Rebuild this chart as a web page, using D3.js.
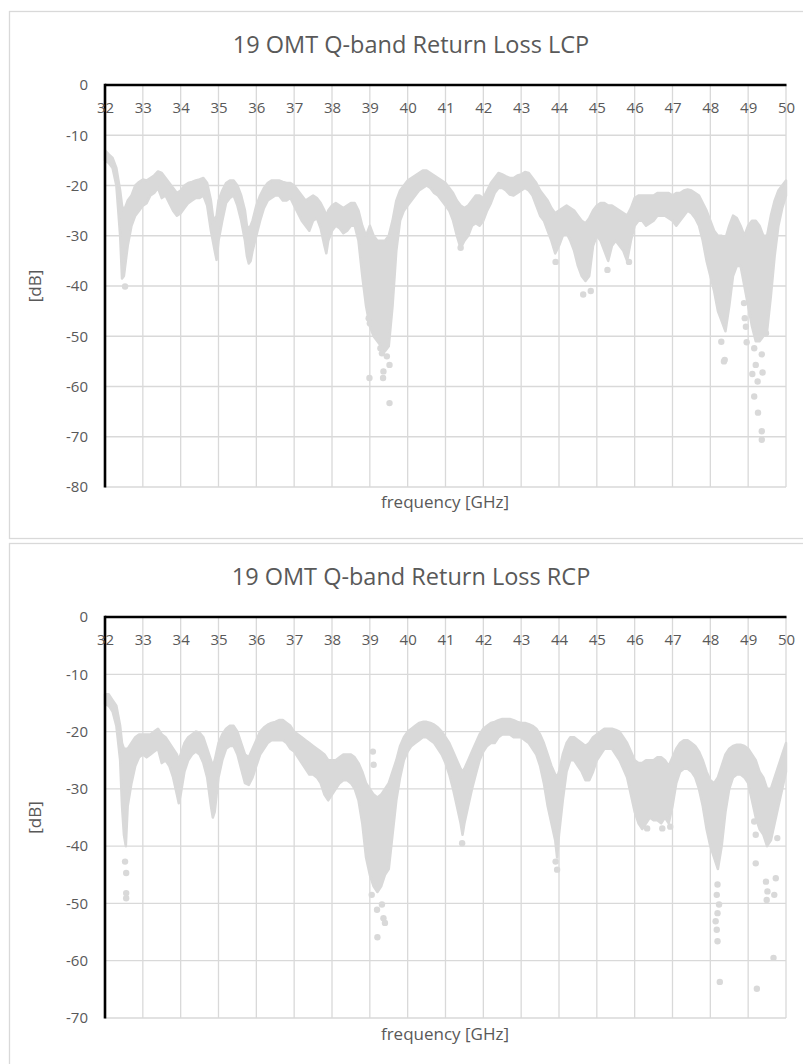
<!DOCTYPE html>
<html lang="en">
<head>
<meta charset="utf-8">
<title>19 OMT Q-band Return Loss</title>
<script src="https://cdn.jsdelivr.net/npm/d3@7/dist/d3.min.js"></script>
<style>
  body { margin: 0; background: #fff; }
  text { font-family: "Open Sans", "Noto Sans", sans-serif; fill: #595959; }
</style>
</head>
<body>
<script>
// ---- data ----
const xTicks = [32,33,34,35,36,37,38,39,40,41,42,43,44,45,46,47,48,49,50];
const yTicksLcp = [0,-10,-20,-30,-40,-50,-60,-70,-80];
const yTicksRcp = [0,-10,-20,-30,-40,-50,-60,-70];

// LCP band: frequency [GHz], upper and lower edge of the point cloud [dB]
const lcpFreq = [32.0,32.1,32.2,32.3,32.4,32.45,32.5,32.55,32.6,32.7,32.8,32.9,33.0,33.1,33.2,33.3,33.4,33.5,33.6,33.7,33.8,33.9,
  34.0,34.1,34.2,34.3,34.4,34.5,34.6,34.7,34.8,34.85,34.9,34.95,35.0,35.1,35.2,35.3,35.4,35.5,35.6,35.7,35.75,35.8,35.85,35.9,
  36.0,36.1,36.2,36.3,36.4,36.5,36.6,36.7,36.8,36.9,37.0,37.1,37.2,37.3,37.4,37.5,37.6,37.7,37.8,37.85,37.9,
  38.0,38.1,38.2,38.3,38.4,38.5,38.6,38.7,38.8,38.9,39.0,39.1,39.2,39.3,39.4,39.5,39.6,39.7,39.8,39.9,
  40.0,40.1,40.2,40.3,40.4,40.5,40.6,40.7,40.8,40.9,41.0,41.1,41.2,41.3,41.4,41.5,41.6,41.7,41.8,41.9,
  42.0,42.1,42.2,42.3,42.4,42.5,42.6,42.7,42.8,42.9,43.0,43.1,43.2,43.3,43.4,43.5,43.6,43.7,43.8,43.9,
  44.0,44.1,44.2,44.3,44.4,44.5,44.6,44.7,44.8,44.9,45.0,45.1,45.2,45.3,45.4,45.5,45.6,45.7,45.8,45.9,
  46.0,46.1,46.2,46.3,46.4,46.5,46.6,46.7,46.8,46.9,47.0,47.1,47.2,47.3,47.4,47.5,47.6,47.7,47.8,47.9,
  48.0,48.1,48.2,48.3,48.4,48.5,48.6,48.7,48.8,48.9,49.0,49.1,49.2,49.3,49.4,49.5,49.6,49.7,49.8,49.9,50.0];
const lcpHi = [-13.0,-13.8,-14.5,-16.5,-21,-24,-25,-24,-23,-22,-20,-19.3,-18.8,-19,-18.5,-18,-17.2,-17.5,-18.5,-19.5,-20.5,-21.5,
  -21,-20,-19.5,-19.3,-19,-18.8,-18.5,-19.5,-23,-26,-27,-26,-23,-21,-19.5,-19,-19,-20,-22,-25,-28,-28.5,-28,-27,
  -24,-22,-20.5,-19.5,-19,-19,-19,-19.3,-19.5,-19.5,-20,-21,-22,-23,-22.5,-22,-22.5,-23.5,-25,-26,-25,
  -24,-23.5,-24,-24.5,-24,-23.5,-23.5,-25,-28,-30,-28,-30,-31,-31,-31,-30,-27,-23,-21,-20,
  -19,-18.5,-18,-17.5,-17,-17,-17.5,-18,-18.5,-19,-19.5,-20.5,-21.5,-23,-24,-24.5,-24,-23,-22,-22,
  -22.5,-21,-19.5,-18.5,-17.5,-17.8,-18.2,-18.5,-18.5,-18,-17.8,-17.3,-17.5,-18.5,-19.5,-21,-22,-23,-24.5,-25.5,
  -25,-24.5,-24,-24.5,-25,-26,-27,-27.5,-26.5,-25,-24,-23.5,-23.5,-24,-24,-24.5,-25,-25.5,-26,-24.5,
  -22.5,-22,-22,-22,-22,-22,-21.5,-21.5,-21.5,-21.5,-22,-21.5,-21.5,-21,-20.8,-21,-21.5,-22,-23.5,-25,
  -27,-29,-30,-30,-30.5,-28,-26,-26.5,-28,-30,-28,-27,-27,-28,-30,-30,-26,-23,-21,-20,-19];
const lcpLo = [-15.0,-15.5,-16.5,-20,-30,-38.5,-38,-35,-32,-28,-26,-25,-24,-23.5,-22,-21.5,-20.5,-22.5,-22,-23.5,-25,-26,
  -25.5,-24.5,-23.5,-23,-22.5,-22.5,-22,-24,-29,-31,-33,-34.8,-31,-27,-23.5,-22.5,-22,-24,-27,-31,-34,-35.5,-35,-33,
  -30,-27,-24.5,-23,-22.5,-22,-22,-23,-23,-22.5,-24,-25.5,-27,-28,-29,-27,-26.5,-28.5,-32,-33.5,-31,
  -29,-28,-28.5,-29.5,-29,-28,-28,-31,-38,-44,-48,-50,-51,-52,-53,-52,-44,-33,-27,-25,
  -24,-23,-22,-21,-20.5,-20,-20.5,-21.5,-22,-23,-24,-25,-27,-30,-32.5,-31,-30,-28,-27.5,-28,
  -27,-25,-23.5,-21.5,-20.5,-20.5,-21,-21.8,-22,-21.5,-21,-20.5,-21,-22,-24,-26,-27,-29,-31,-33.5,
  -32,-30,-29.5,-31,-33,-36,-38,-39,-38,-32,-30,-31,-33,-35,-32,-31,-32,-33,-35,-31,
  -28,-27,-27,-28,-27.5,-27,-26,-26,-26,-26.5,-27,-28,-27,-26,-25,-25.5,-26.5,-28,-31,-35,
  -38,-41,-45,-47,-49,-44,-38,-36,-36,-40,-44,-48,-51,-51,-50,-49,-42,-34,-28,-24.5,-22];
// LCP isolated points below the cloud
const lcpOutFreq = [32.53,38.97,39.0,38.99,39.28,39.32,39.35,39.36,39.45,39.52,39.52,41.4,43.91,44.64,44.84,45.28,45.85,
  48.29,48.36,48.38,48.89,48.91,48.94,48.96,49.11,49.16,49.16,49.2,49.25,49.26,49.36,49.36,49.36,49.38,49.47];
const lcpOutDb = [-40.1,-46.4,-47.4,-58.3,-52.4,-53.4,-58.3,-57,-54,-55.7,-63.3,-32.4,-35.2,-41.7,-41,-36.8,-35.2,
  -51.1,-55,-54.7,-43.4,-46.4,-48.1,-51.2,-57.5,-52.4,-62,-55.7,-59,-65.2,-53.6,-68.9,-70.6,-57.2,-49.4];

// RCP band
const rcpFreq = [32.0,32.1,32.2,32.3,32.4,32.45,32.5,32.55,32.6,32.7,32.8,32.9,33.0,33.1,33.2,33.3,33.4,33.5,33.6,33.7,33.8,33.9,33.95,
  34.0,34.1,34.2,34.3,34.4,34.5,34.6,34.7,34.8,34.85,34.9,35.0,35.1,35.2,35.3,35.4,35.5,35.6,35.7,35.8,35.9,
  36.0,36.1,36.2,36.3,36.4,36.5,36.6,36.7,36.8,36.9,37.0,37.1,37.2,37.3,37.4,37.5,37.6,37.7,37.8,37.9,
  38.0,38.1,38.2,38.3,38.4,38.5,38.6,38.7,38.8,38.9,39.0,39.1,39.2,39.3,39.4,39.5,39.6,39.7,39.8,39.9,
  40.0,40.1,40.2,40.3,40.4,40.5,40.6,40.7,40.8,40.9,41.0,41.1,41.2,41.3,41.4,41.45,41.5,41.6,41.7,41.8,41.9,
  42.0,42.1,42.2,42.3,42.4,42.5,42.6,42.7,42.8,42.9,43.0,43.1,43.2,43.3,43.4,43.5,43.6,43.7,43.8,43.9,43.95,
  44.0,44.1,44.2,44.3,44.4,44.5,44.6,44.7,44.8,44.9,45.0,45.1,45.2,45.3,45.4,45.5,45.6,45.7,45.8,45.9,
  46.0,46.1,46.2,46.3,46.4,46.5,46.6,46.7,46.8,46.9,47.0,47.1,47.2,47.3,47.4,47.5,47.6,47.7,47.8,47.9,
  48.0,48.1,48.2,48.3,48.4,48.5,48.6,48.7,48.8,48.9,49.0,49.1,49.2,49.3,49.4,49.5,49.6,49.7,49.8,49.9,50.0];
const rcpHi = [-13.5,-13.5,-14.5,-15.5,-19,-22,-23,-23,-23,-22,-21,-20.5,-20.5,-20.5,-20.5,-20,-19.5,-20.5,-21,-22,-23,-24,-25,
  -24,-22,-21,-20.5,-20,-20.2,-21,-23,-25,-26,-25,-22,-20.5,-19.5,-19,-19,-20,-22,-24,-24.5,-23,
  -21.5,-20,-19.3,-18.8,-18.5,-18.3,-18,-18,-18.5,-19,-20,-20.5,-21,-21.5,-22,-22.5,-23,-23.5,-24,-25,
  -25,-25,-24.5,-24,-24,-24,-24.5,-25.5,-27,-29,-30,-31,-31.5,-31,-30,-29,-27,-25,-22.5,-21,
  -20,-19.5,-19,-18.5,-18.3,-18.3,-18.5,-18.8,-19.3,-20,-21,-22,-23.5,-25,-26.5,-27,-26.5,-25,-23.5,-22,-20.5,
  -19.5,-19,-18.5,-18.3,-18,-17.8,-17.8,-17.8,-18,-18.3,-18.5,-18.5,-18.7,-19,-19.5,-20.5,-22,-24,-26,-27.5,-28,
  -27,-24,-22,-21,-21,-21.5,-22,-22.5,-22,-21,-20.5,-20,-19.5,-19.5,-19.5,-19.7,-20,-21,-22,-23.5,
  -25,-25.5,-25.5,-25,-25,-25,-24.5,-24.5,-25,-26,-24.5,-23,-22,-21.5,-21.5,-22,-22.5,-23.5,-25,-27,
  -28.5,-29,-28,-26,-24,-23,-22.5,-22.3,-22.3,-22.5,-23,-24,-25,-27,-28,-30,-30,-28,-26,-24,-22];
const rcpLo = [-15.2,-15.5,-16.5,-19,-25,-33,-38,-40,-33,-29,-26,-24.5,-24,-24.5,-24,-23.5,-23,-25.5,-25,-26,-28,-31,-32.5,
  -31,-27,-25,-24,-23.5,-24,-25.5,-28,-33,-35,-34,-28,-25,-23,-22.5,-22.5,-24,-26.5,-29,-29.3,-28,
  -26,-24,-23,-22,-21.5,-21.5,-21.5,-21.5,-22,-23,-23.5,-24.5,-25.5,-26.5,-27.5,-27.5,-28,-29,-31,-32,
  -31,-30,-29,-28.5,-28.5,-29,-30,-32,-36,-42,-45,-47,-48,-47,-45,-44,-38,-32,-28,-25,
  -23.5,-22.5,-22,-21.5,-21,-21,-21.5,-22,-23,-24,-25.5,-27.5,-30,-33,-36,-38,-36,-33,-30,-27.5,-25,
  -23.5,-22.5,-22,-22,-21,-20.5,-20.5,-20.5,-21,-21,-21,-21.5,-22,-23,-24,-26,-29,-33,-36,-39,-42,
  -38,-32,-27,-25,-25,-26,-27,-28.5,-28.5,-27,-25,-24,-23,-23,-23,-24,-25,-26.5,-28,-31,
  -34,-36,-37,-36,-35,-35.5,-35.5,-36,-35,-36,-33,-29,-27,-26.5,-26.5,-27,-28,-30,-33,-37,
  -40,-42,-44,-40,-34,-30,-28,-27.5,-27.5,-28,-29,-32,-35,-37,-38,-40,-39,-36,-33,-30,-27];
// RCP isolated points
const rcpOutFreq = [32.53,32.56,32.56,32.56,39.08,39.1,39.05,39.19,39.32,39.36,39.4,39.2,41.44,43.91,43.95,46.33,46.73,46.94,
  48.19,48.17,48.23,48.19,48.14,48.17,48.19,48.25,49.16,49.2,49.2,49.23,49.47,49.51,49.49,49.67,49.69,49.73,49.77];
const rcpOutDb = [-42.7,-44.7,-48.2,-49.1,-23.5,-25.8,-48.5,-51.1,-50.2,-52.6,-53.4,-55.9,-39.5,-42.7,-44.1,-36.9,-36.9,-36.6,
  -46.7,-48.5,-50.2,-51.7,-53.1,-54.6,-56.6,-63.7,-35.7,-38,-43,-64.9,-46.2,-47.9,-49.4,-59.5,-48.5,-45.6,-38.6];

const W = 803, H = 1064;
const dotColor = "#d9d9d9";
const gridColor = "#d9d9d9";

const svg = d3.select("body").append("svg")
  .attr("width", W)
  .attr("height", H);

function drawChart(cfg) {
  const g = svg.append("g");

  // chart frame
  g.append("rect")
    .attr("x", 9.5).attr("y", cfg.frameTop + 0.5)
    .attr("width", 800).attr("height", cfg.frameH)
    .attr("fill", "#fff").attr("stroke", gridColor).attr("stroke-width", 1.3);

  const x = d3.scaleLinear().domain([32, 50]).range([105, 786]);
  const y = d3.scaleLinear().domain([cfg.yMin, 0]).range([cfg.bottom, cfg.top]);

  // grid
  g.append("g").selectAll("line")
    .data(xTicks.slice(1))
    .join("line")
    .attr("x1", d => x(d)).attr("x2", d => x(d))
    .attr("y1", cfg.top).attr("y2", cfg.bottom)
    .attr("stroke", gridColor).attr("stroke-width", 1.3);
  g.append("g").selectAll("line")
    .data(cfg.yTicks.slice(1))
    .join("line")
    .attr("x1", 105).attr("x2", 786)
    .attr("y1", d => y(d)).attr("y2", d => y(d))
    .attr("stroke", gridColor).attr("stroke-width", 1.3);

  // measured point cloud
  const band = cfg.freq.map((f, i) => ({f: f, hi: cfg.hi[i], lo: cfg.lo[i]}));
  const area = d3.area()
    .x(d => x(d.f))
    .y0(d => y(d.lo))
    .y1(d => y(d.hi));
  g.append("path")
    .datum(band)
    .attr("d", area)
    .attr("fill", dotColor)
    .attr("stroke", dotColor)
    .attr("stroke-width", 2.5)
    .attr("stroke-linejoin", "round");

  g.append("g").selectAll("circle")
    .data(cfg.outF.map((f, i) => ({f: f, v: cfg.outDb[i]})))
    .join("circle")
    .attr("cx", d => x(d.f))
    .attr("cy", d => y(d.v))
    .attr("r", 3.2)
    .attr("fill", dotColor);

  // axes: black lines at 0 dB and 32 GHz
  g.append("line")
    .attr("x1", 105).attr("x2", 786.5)
    .attr("y1", cfg.top).attr("y2", cfg.top)
    .attr("stroke", "#000").attr("stroke-width", 2.6);
  g.append("line")
    .attr("x1", 105).attr("x2", 105)
    .attr("y1", cfg.top - 1.3).attr("y2", cfg.bottom + 0.5)
    .attr("stroke", "#000").attr("stroke-width", 2.6);

  const xAxis = d3.axisBottom(x).tickValues(xTicks).tickSize(0).tickPadding(17)
    .tickFormat(d => String(d));
  const gx = g.append("g").attr("transform", `translate(0,${cfg.top})`).call(xAxis);
  gx.select(".domain").remove();
  gx.selectAll("text").attr("font-size", 15).attr("fill", "#595959")
    .style("font-family", "'Open Sans', sans-serif");

  const yAxis = d3.axisLeft(y).tickValues(cfg.yTicks).tickSize(0).tickPadding(17)
    .tickFormat(d => String(d));
  const gy = g.append("g").attr("transform", "translate(105,0)").call(yAxis);
  gy.select(".domain").remove();
  gy.selectAll("text").attr("font-size", 15).attr("fill", "#595959")
    .style("font-family", "'Open Sans', sans-serif");

  // titles
  g.append("text")
    .attr("x", 411).attr("y", cfg.titleY)
    .attr("text-anchor", "middle")
    .attr("font-size", 23.5)
    .text(cfg.title);
  g.append("text")
    .attr("x", 445).attr("y", cfg.xLabelY)
    .attr("text-anchor", "middle")
    .attr("font-size", 17)
    .text("frequency [GHz]");
  g.append("text")
    .attr("transform", `translate(41,${(cfg.top + cfg.bottom) / 2}) rotate(-90)`)
    .attr("text-anchor", "middle")
    .attr("font-size", 17)
    .text("[dB]");
}

drawChart({
  title: "19 OMT Q-band Return Loss LCP",
  frameTop: 11, frameH: 527,
  top: 85, bottom: 487, yMin: -80, yTicks: yTicksLcp,
  titleY: 53, xLabelY: 508,
  freq: lcpFreq, hi: lcpHi, lo: lcpLo, outF: lcpOutFreq, outDb: lcpOutDb
});

drawChart({
  title: "19 OMT Q-band Return Loss RCP",
  frameTop: 543, frameH: 540,
  top: 617, bottom: 1018, yMin: -70, yTicks: yTicksRcp,
  titleY: 585, xLabelY: 1040,
  freq: rcpFreq, hi: rcpHi, lo: rcpLo, outF: rcpOutFreq, outDb: rcpOutDb
});
</script>
</body>
</html>
